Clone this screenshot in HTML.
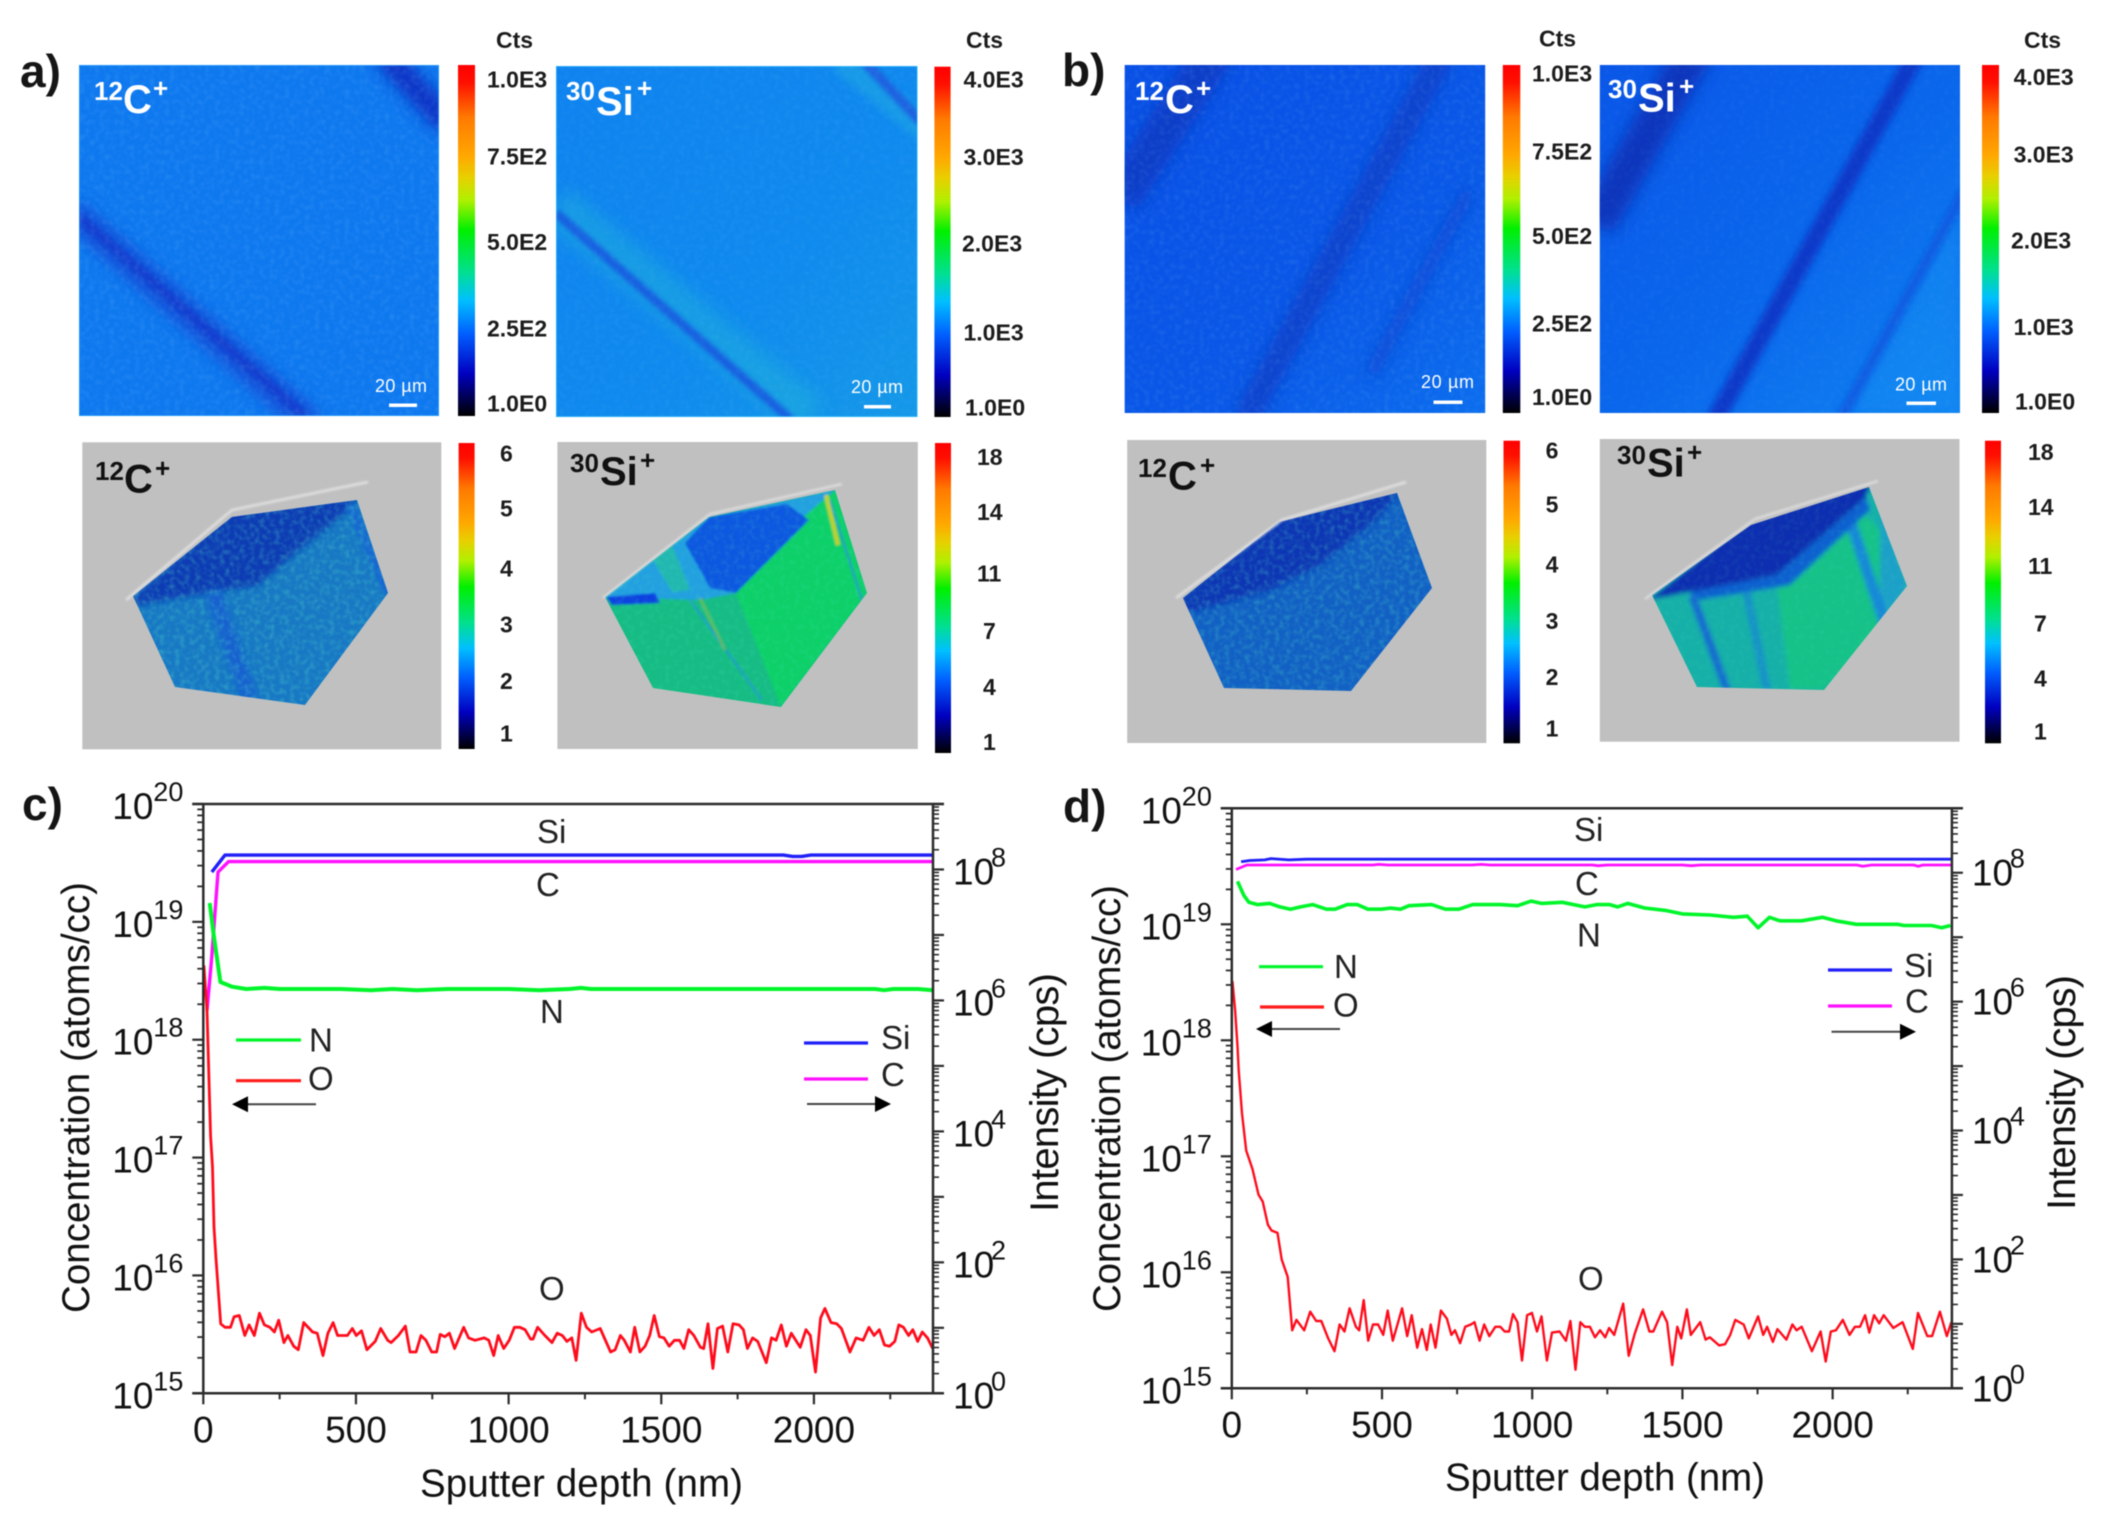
<!DOCTYPE html>
<html lang="en">
<head>
<meta charset="utf-8">
<title>SIMS ion maps and depth profiles</title>
<style>
html,body{margin:0;padding:0;background:#fff;}
#fig{display:block;width:2115px;height:1516px;filter:blur(.5px);font-family:"Liberation Sans",Arial,sans-serif;}
.pl{font-weight:bold;font-size:46px;fill:#151515;}
.cb{font-weight:bold;font-size:23px;fill:#1c1c1c;}
.ct{font-weight:bold;font-size:23px;fill:#1c1c1c;}
.ts{font-weight:bold;font-size:26px;}
.tm{font-weight:bold;font-size:40px;}
.wh{fill:#fff;}
.bk{fill:#111;}
.sc{font-size:18px;fill:#fff;}
</style>
</head>
<body>
<svg id="fig" xmlns="http://www.w3.org/2000/svg" width="2115" height="1516" viewBox="0 0 2115 1516">
<defs>
<linearGradient id="cbg" x1="0" y1="0" x2="0" y2="1">
<stop offset="0" stop-color="#ff0000"/><stop offset=".05" stop-color="#ff1000"/><stop offset=".15" stop-color="#ff7a00"/><stop offset=".26" stop-color="#ffa800"/><stop offset=".32" stop-color="#e8d000"/><stop offset=".385" stop-color="#b0f000"/><stop offset=".47" stop-color="#00f000"/><stop offset=".59" stop-color="#00e090"/><stop offset=".67" stop-color="#00c0ff"/><stop offset=".765" stop-color="#0060ff"/><stop offset=".88" stop-color="#0000c0"/><stop offset="1" stop-color="#000000"/>
</linearGradient>
<linearGradient id="a2g" x1="0" y1="0" x2="1" y2="1"><stop offset="0" stop-color="#0f82ef"/><stop offset=".6" stop-color="#0f8aee"/><stop offset="1" stop-color="#1598e8"/></linearGradient>
<linearGradient id="b1g" x1="0" y1="0" x2="1" y2="1"><stop offset="0" stop-color="#0950e6"/><stop offset=".6" stop-color="#0a58e8"/><stop offset="1" stop-color="#0c6eee"/></linearGradient>
<linearGradient id="b2g" x1="0" y1="0" x2="1" y2="1"><stop offset="0" stop-color="#0a56e8"/><stop offset=".55" stop-color="#0a68ec"/><stop offset="1" stop-color="#1284f2"/></linearGradient>
<filter id="b1" x="-20%" y="-20%" width="140%" height="140%"><feGaussianBlur stdDeviation="1"/></filter>
<filter id="b2" x="-20%" y="-20%" width="140%" height="140%"><feGaussianBlur stdDeviation="2.5"/></filter>
<filter id="b4" x="-30%" y="-30%" width="160%" height="160%"><feGaussianBlur stdDeviation="4"/></filter>
<filter id="b8" x="-30%" y="-30%" width="160%" height="160%"><feGaussianBlur stdDeviation="8"/></filter>
<filter id="nz" x="0" y="0" width="1" height="1"><feTurbulence type="fractalNoise" baseFrequency=".2" numOctaves="2" seed="4"/><feColorMatrix type="matrix" values="0 0 0 0 .35  0 0 0 0 .75  0 0 0 0 1  0 0 0 2.2 -.95"/><feGaussianBlur stdDeviation=".7"/></filter>
<filter id="ng" x="0" y="0" width="1" height="1"><feTurbulence type="fractalNoise" baseFrequency=".2" numOctaves="2" seed="9"/><feColorMatrix type="matrix" values="0 0 0 0 .1  0 0 0 0 .8  0 0 0 0 .6  0 0 0 2.4 -1"/><feGaussianBlur stdDeviation=".6"/></filter>
<clipPath id="ca1"><rect x="79" y="65" width="360" height="351"/></clipPath>
<clipPath id="ca2"><rect x="556" y="66" width="361.5" height="351"/></clipPath>
<clipPath id="cb1"><rect x="1124.6" y="65" width="360.7" height="348"/></clipPath>
<clipPath id="cb2"><rect x="1599.7" y="65" width="360.3" height="348"/></clipPath>
<clipPath id="pa3"><polygon points="133,596 232,517 357,500 388,593 305,705 175,687"/></clipPath>
<clipPath id="pa4"><polygon points="605,597 709,517 835,490 867,593 781,707 653,688"/></clipPath>
<clipPath id="pb3"><polygon points="1183,598 1279,522 1397,493 1432,588 1351,691 1224,688"/></clipPath>
<clipPath id="pb4"><polygon points="1652,595 1751,525 1869,487 1907,586 1824,690 1697,687"/></clipPath>
</defs>
<rect x="0" y="0" width="2115" height="1516" fill="#ffffff"/>

<text class="pl" x="20" y="87">a)</text>
<text class="pl" x="1062" y="86">b)</text>
<text class="pl" x="22" y="820">c)</text>
<text class="pl" x="1063" y="822">d)</text>

<!-- a: 12C map -->
<g clip-path="url(#ca1)">
<rect x="79" y="65" width="360" height="351" fill="#0e78ef"/>
<line x1="70" y1="210" x2="312" y2="425" stroke="#1450d8" stroke-width="26" filter="url(#b8)"/>
<line x1="79" y1="217" x2="304" y2="415" stroke="#0a38cc" stroke-width="8" filter="url(#b4)"/>
<line x1="385" y1="55" x2="449" y2="125" stroke="#0a30c4" stroke-width="26" filter="url(#b8)"/>
<rect x="79" y="65" width="360" height="351" filter="url(#nz)" opacity=".14"/>
<rect x="79.5" y="65.5" width="359" height="350" fill="none" stroke="#30a8ff" stroke-width="1" opacity=".6"/>
</g>
<text class="ts wh" x="94" y="100">12</text>
<text class="tm wh" x="123" y="113">C</text>
<text class="ts wh" x="153" y="97">+</text>
<text class="sc" x="375" y="392" textLength="52">20 µm</text>
<rect x="389" y="403.5" width="28" height="3.5" fill="#fff"/>
<rect x="458" y="65" width="17" height="351" fill="url(#cbg)"/>
<text class="ct" x="496" y="48">Cts</text>
<text class="cb" x="487" y="87.7">1.0E3</text>
<text class="cb" x="487" y="164.3">7.5E2</text>
<text class="cb" x="487" y="250">5.0E2</text>
<text class="cb" x="487" y="336.7">2.5E2</text>
<text class="cb" x="487" y="411.7">1.0E0</text>

<!-- a: 30Si map -->
<g clip-path="url(#ca2)">
<rect x="556" y="66" width="361.5" height="351" fill="url(#a2g)"/>
<line x1="556" y1="205" x2="810" y2="417" stroke="#20b8d8" stroke-width="40" opacity=".42" filter="url(#b8)"/>
<line x1="556" y1="213" x2="791" y2="420" stroke="#155ee0" stroke-width="9" filter="url(#b2)"/>
<line x1="840" y1="60" x2="925" y2="130" stroke="#20b0e0" stroke-width="24" opacity=".45" filter="url(#b4)"/>
<line x1="865" y1="62" x2="921" y2="122" stroke="#1a62e0" stroke-width="10" filter="url(#b2)"/>
<rect x="556" y="66" width="361.5" height="351" filter="url(#nz)" opacity=".08"/>
<rect x="556.5" y="66.5" width="360.5" height="350" fill="none" stroke="#30c8ff" stroke-width="1" opacity=".6"/>
</g>
<text class="ts wh" x="566" y="100">30</text>
<text class="tm wh" x="596" y="115">Si</text>
<text class="ts wh" x="637" y="97">+</text>
<text class="sc" x="851" y="393" textLength="52">20 µm</text>
<rect x="864" y="405" width="27" height="3.5" fill="#fff"/>
<rect x="934.4" y="66.7" width="16.2" height="350.3" fill="url(#cbg)"/>
<text class="ct" x="966" y="48">Cts</text>
<text class="cb" x="963.5" y="87.3">4.0E3</text>
<text class="cb" x="963.5" y="165">3.0E3</text>
<text class="cb" x="962" y="251.7">2.0E3</text>
<text class="cb" x="963.5" y="340.7">1.0E3</text>
<text class="cb" x="965" y="415.7">1.0E0</text>

<!-- b: 12C map -->
<g clip-path="url(#cb1)">
<rect x="1124.6" y="65" width="360.7" height="348" fill="url(#b1g)"/>
<line x1="1216" y1="50" x2="1120" y2="200" stroke="#0a3cc8" stroke-width="40" filter="url(#b8)"/>
<line x1="1442" y1="55" x2="1245" y2="420" stroke="#0a42cc" stroke-width="26" filter="url(#b8)"/>
<line x1="1470" y1="190" x2="1370" y2="375" stroke="#0a4cd6" stroke-width="14" filter="url(#b8)"/>
<rect x="1124.6" y="65" width="360.7" height="348" filter="url(#nz)" opacity=".12"/>
</g>
<text class="ts wh" x="1135" y="100">12</text>
<text class="tm wh" x="1165" y="113">C</text>
<text class="ts wh" x="1196" y="97">+</text>
<text class="sc" x="1421" y="388" textLength="53">20 µm</text>
<rect x="1433.5" y="400.5" width="29" height="3.5" fill="#fff"/>
<rect x="1502.8" y="65" width="17.5" height="348" fill="url(#cbg)"/>
<text class="ct" x="1539" y="46.7">Cts</text>
<text class="cb" x="1532" y="81.7">1.0E3</text>
<text class="cb" x="1532" y="159.3">7.5E2</text>
<text class="cb" x="1532" y="244">5.0E2</text>
<text class="cb" x="1532" y="331.7">2.5E2</text>
<text class="cb" x="1532" y="405">1.0E0</text>

<!-- b: 30Si map -->
<g clip-path="url(#cb2)">
<rect x="1599.7" y="65" width="360.3" height="348" fill="url(#b2g)"/>
<polygon points="1960,197 1960,413 1844,413" fill="#1690f2" opacity=".45" filter="url(#b8)"/>
<line x1="1695" y1="50" x2="1596" y2="225" stroke="#0836bc" stroke-width="38" filter="url(#b8)"/>
<line x1="1916" y1="55" x2="1715" y2="420" stroke="#0a38c8" stroke-width="18" filter="url(#b4)"/>
<line x1="1965" y1="190" x2="1840" y2="420" stroke="#0c58e0" stroke-width="10" filter="url(#b4)"/>
<rect x="1599.7" y="65" width="360.3" height="348" filter="url(#nz)" opacity=".06"/>
</g>
<text class="ts wh" x="1608" y="98">30</text>
<text class="tm wh" x="1638" y="111.7">Si</text>
<text class="ts wh" x="1679" y="95">+</text>
<text class="sc" x="1895" y="390.7" textLength="52">20 µm</text>
<rect x="1906.5" y="401.5" width="29.5" height="3.5" fill="#fff"/>
<rect x="1982" y="65" width="17" height="348" fill="url(#cbg)"/>
<text class="ct" x="2024" y="48">Cts</text>
<text class="cb" x="2013.6" y="85">4.0E3</text>
<text class="cb" x="2013.6" y="162.7">3.0E3</text>
<text class="cb" x="2011" y="248.3">2.0E3</text>
<text class="cb" x="2013.6" y="335">1.0E3</text>
<text class="cb" x="2015" y="409.3">1.0E0</text>

<!-- a: 3D 12C -->
<rect x="82.3" y="442.3" width="359" height="307" fill="#c0c0c0"/>
<g clip-path="url(#pa3)">
<rect x="125" y="490" width="270" height="225" fill="#1878c4"/>
<polygon points="125,605 232,510 360,495 342,515 302,547 258,585 213,592 165,600 133,606" fill="#0a3ab4" filter="url(#b4)"/>
<line x1="213" y1="592" x2="250" y2="700" stroke="#1260d0" stroke-width="16" filter="url(#b4)"/>
<line x1="350" y1="505" x2="388" y2="593" stroke="#1468d0" stroke-width="9" filter="url(#b2)"/>
<rect x="125" y="490" width="270" height="225" filter="url(#ng)" opacity=".3"/>
</g>
<polyline points="126,600 232,510 368,482" fill="none" stroke="#e8e8e8" stroke-width="2.5" opacity=".85" filter="url(#b1)"/>
<text class="ts bk" x="95" y="480">12</text>
<text class="tm bk" x="124" y="492.7">C</text>
<text class="ts bk" x="155" y="477">+</text>
<rect x="458.6" y="443" width="16" height="306" fill="url(#cbg)"/>
<text class="cb" x="500" y="461.7">6</text>
<text class="cb" x="500" y="516.7">5</text>
<text class="cb" x="500" y="576.7">4</text>
<text class="cb" x="500" y="632.7">3</text>
<text class="cb" x="500" y="689">2</text>
<text class="cb" x="500" y="741.7">1</text>

<!-- a: 3D 30Si -->
<rect x="557.4" y="442" width="360.4" height="307" fill="#c0c0c0"/>
<g clip-path="url(#pa4)">
<g filter="url(#b1)">
<rect x="600" y="485" width="272" height="225" fill="#14bc84"/>
<polygon points="736,593 787,505 835,490 867,593 781,707" fill="#10d068"/>
<polygon points="605,597 709,517 835,490 800,520 736,593 700,600" fill="#20a0e0"/>
<polygon points="650,555 668,535 690,590 672,592" fill="#20b8b0"/>
<polygon points="685,543 709,517 787,504 809,520 736,593 710,588" fill="#1058e0"/>
<polygon points="606,597 655,593 660,603 612,605" fill="#1040e0"/>
<line x1="690" y1="600" x2="762" y2="700" stroke="#20a0c0" stroke-width="2.5"/>
<line x1="830" y1="500" x2="862" y2="600" stroke="#20a0c0" stroke-width="2.5"/>
<line x1="826" y1="495" x2="838" y2="545" stroke="#c8d020" stroke-width="4"/>
<line x1="700" y1="598" x2="725" y2="650" stroke="#90c040" stroke-width="3" opacity=".6"/>
</g>
<rect x="600" y="485" width="272" height="225" filter="url(#ng)" opacity=".15"/>
</g>
<polyline points="603,598 710,514 842,484" fill="none" stroke="#e8e8e8" stroke-width="2" opacity=".85" filter="url(#b1)"/>
<text class="ts bk" x="570" y="472">30</text>
<text class="tm bk" x="600" y="485">Si</text>
<text class="ts bk" x="640" y="469">+</text>
<rect x="935" y="443" width="16" height="310" fill="url(#cbg)"/>
<text class="cb" x="977" y="465">18</text>
<text class="cb" x="977" y="520">14</text>
<text class="cb" x="977" y="581.7">11</text>
<text class="cb" x="983" y="639">7</text>
<text class="cb" x="983" y="695">4</text>
<text class="cb" x="983" y="750">1</text>

<!-- b: 3D 12C -->
<rect x="1127.2" y="440" width="359.1" height="303" fill="#c0c0c0"/>
<g clip-path="url(#pb3)">
<rect x="1175" y="485" width="265" height="215" fill="#1260c4"/>
<polygon points="1175,605 1279,515 1402,488 1375,520 1320,565 1270,590 1190,612" fill="#0a36b4" filter="url(#b4)"/>
<rect x="1175" y="485" width="265" height="215" filter="url(#ng)" opacity=".28"/>
</g>
<polyline points="1176,598 1282,520 1406,482" fill="none" stroke="#e8e8e8" stroke-width="2.5" opacity=".85" filter="url(#b1)"/>
<text class="ts bk" x="1138" y="477">12</text>
<text class="tm bk" x="1168" y="489.3">C</text>
<text class="ts bk" x="1200" y="474">+</text>
<rect x="1503.5" y="440.7" width="16.5" height="302.6" fill="url(#cbg)"/>
<text class="cb" x="1545.6" y="458.3">6</text>
<text class="cb" x="1545.6" y="512.7">5</text>
<text class="cb" x="1545.6" y="572.7">4</text>
<text class="cb" x="1545.6" y="629">3</text>
<text class="cb" x="1545.6" y="685">2</text>
<text class="cb" x="1545.6" y="736.7">1</text>

<!-- b: 3D 30Si -->
<rect x="1599.8" y="439" width="359.7" height="302.7" fill="#c0c0c0"/>
<g clip-path="url(#pb4)">
<g filter="url(#b2)">
<rect x="1645" y="480" width="268" height="215" fill="#12b0a8"/>
<polygon points="1776,575 1850,500 1880,530 1895,615 1824,690 1790,690" fill="#12c288"/>
<polygon points="1880,510 1907,586 1880,625" fill="#1ba0c8"/>
<line x1="1692" y1="595" x2="1727" y2="690" stroke="#1468d0" stroke-width="8"/>
<line x1="1745" y1="585" x2="1767" y2="690" stroke="#1890c8" stroke-width="8"/>
<line x1="1850" y1="520" x2="1887" y2="630" stroke="#1488d8" stroke-width="11"/>
<polygon points="1690,592 1776,575 1866,497 1870,510 1790,585 1700,600" fill="#1060d0"/>
<polygon points="1648,600 1751,518 1872,482 1866,497 1776,575 1690,592" fill="#0a2eb0"/>
</g>
<rect x="1645" y="480" width="268" height="215" filter="url(#ng)" opacity=".1"/>
</g>
<polyline points="1645,599 1755,519 1878,481" fill="none" stroke="#e8e8e8" stroke-width="2" opacity=".85" filter="url(#b1)"/>
<text class="ts bk" x="1617" y="464">30</text>
<text class="tm bk" x="1647" y="476.7">Si</text>
<text class="ts bk" x="1687" y="461">+</text>
<rect x="1985" y="440.7" width="16" height="302.6" fill="url(#cbg)"/>
<text class="cb" x="2028" y="460">18</text>
<text class="cb" x="2028" y="515">14</text>
<text class="cb" x="2028" y="574">11</text>
<text class="cb" x="2034" y="631.7">7</text>
<text class="cb" x="2034" y="686.7">4</text>
<text class="cb" x="2034" y="739.3">1</text>

<g id="chart-c"></g>
<g id="chart-d"></g>
</svg>

<script>
// ---------- shared axis data ----------
const xMajorTicks = [0, 500, 1000, 1500, 2000];
const xMinorTicks = [250, 750, 1250, 1750, 2250];
const leftDecades = [15, 16, 17, 18, 19, 20];
const rightDecades = [0, 1, 2, 3, 4, 5, 6, 7, 8, 9];
const rightLabelledDecades = [0, 2, 4, 6, 8];
const minorMultipliers = [2, 3, 4, 5, 6, 7, 8, 9];

// ---------- chart c data: depth (nm), log10 concentration or intensity ----------
const cDepthO = [2,12,24,30,35,42,57,71,89,101,118,136,150,167,184,200,218,233,247,264,277,296,311,329,358,373,392,408,425,440,472,488,501,518,536,563,581,604,615,639,662,677,697,713,729,748,764,776,791,806,823,853,869,890,920,935,951,966,984,1002,1019,1037,1054,1072,1080,1095,1119,1142,1159,1176,1191,1207,1221,1238,1255,1272,1300,1334,1349,1366,1379,1399,1413,1430,1447,1462,1477,1494,1509,1526,1543,1560,1574,1590,1607,1628,1639,1653,1669,1684,1701,1718,1735,1755,1769,1782,1799,1816,1844,1861,1876,1893,1910,1926,1955,1974,1988,2005,2022,2036,2056,2075,2090,2118,2138,2161,2180,2197,2214,2231,2248,2265,2278,2293,2310,2324,2340,2355,2372,2389];
const cLogO = [18.63,18.25,17.18,16.92,16.41,16.13,15.59,15.56,15.56,15.65,15.66,15.49,15.58,15.49,15.68,15.58,15.56,15.52,15.62,15.43,15.49,15.40,15.37,15.60,15.52,15.51,15.32,15.51,15.60,15.49,15.49,15.55,15.49,15.53,15.37,15.44,15.55,15.45,15.43,15.49,15.57,15.35,15.35,15.49,15.45,15.35,15.35,15.50,15.48,15.51,15.38,15.56,15.47,15.45,15.47,15.45,15.32,15.49,15.38,15.45,15.56,15.56,15.54,15.46,15.46,15.56,15.49,15.43,15.51,15.49,15.44,15.47,15.28,15.68,15.56,15.52,15.55,15.35,15.37,15.49,15.45,15.35,15.56,15.35,15.40,15.49,15.66,15.48,15.47,15.40,15.45,15.45,15.38,15.54,15.49,15.39,15.38,15.59,15.21,15.55,15.57,15.35,15.59,15.58,15.54,15.38,15.47,15.44,15.26,15.47,15.45,15.58,15.40,15.51,15.39,15.54,15.49,15.18,15.64,15.72,15.60,15.59,15.55,15.35,15.47,15.45,15.56,15.49,15.54,15.41,15.40,15.44,15.58,15.56,15.49,15.54,15.44,15.52,15.47,15.38];
const cDepthN = [21,35,56,94,141,200,250,350,450,550,620,700,800,900,1000,1100,1200,1237,1270,1400,1600,1800,2000,2200,2230,2260,2340,2390];
const cLogN = [19.16,18.87,18.49,18.45,18.43,18.44,18.43,18.43,18.43,18.42,18.43,18.42,18.43,18.43,18.43,18.42,18.43,18.44,18.43,18.43,18.43,18.43,18.43,18.43,18.42,18.43,18.43,18.42];
const cDepthSi = [28,71,500,1000,1500,1900,1930,1960,1990,2390];
const cLogSi = [7.96,8.22,8.22,8.22,8.22,8.22,8.20,8.20,8.22,8.22];
const cDepthC = [12,28,48,83,500,1000,1500,2000,2390];
const cLogC = [5.85,6.67,7.96,8.12,8.12,8.12,8.12,8.12,8.12];

// ---------- chart d data ----------
const dDepthO = [2,11,19,23,34,48,69,89,103,120,132,152,166,186,201,215,241,261,281,298,321,342,359,375,392,413,424,439,454,470,487,504,519,536,567,584,599,617,633,649,662,678,696,716,731,743,760,777,796,808,825,840,857,877,894,908,923,936,951,966,983,999,1016,1031,1049,1066,1091,1112,1127,1144,1160,1175,1192,1209,1226,1243,1256,1273,1303,1321,1341,1369,1390,1403,1432,1449,1466,1483,1496,1515,1528,1559,1577,1591,1622,1642,1659,1676,1704,1721,1752,1769,1782,1801,1816,1846,1866,1880,1897,1931,1960,1977,1994,2011,2034,2056,2074,2091,2108,2122,2138,2155,2170,2202,2233,2267,2284,2315,2331,2357,2380,2395];
const dLogO = [18.51,18.26,17.95,17.74,17.37,17.05,16.89,16.67,16.61,16.41,16.36,16.34,16.11,15.96,15.50,15.59,15.50,15.66,15.58,15.58,15.43,15.32,15.55,15.49,15.69,15.53,15.50,15.76,15.41,15.55,15.55,15.46,15.67,15.41,15.69,15.45,15.63,15.35,15.51,15.33,15.55,15.35,15.67,15.60,15.46,15.50,15.39,15.53,15.55,15.57,15.41,15.55,15.45,15.53,15.53,15.49,15.49,15.64,15.57,15.24,15.63,15.65,15.49,15.62,15.24,15.48,15.49,15.41,15.58,15.16,15.57,15.53,15.53,15.44,15.50,15.44,15.52,15.46,15.73,15.28,15.47,15.68,15.49,15.49,15.66,15.57,15.20,15.53,15.43,15.68,15.46,15.57,15.42,15.44,15.37,15.38,15.46,15.59,15.55,15.43,15.62,15.46,15.53,15.40,15.51,15.42,15.55,15.50,15.53,15.32,15.49,15.23,15.49,15.50,15.59,15.46,15.53,15.53,15.63,15.48,15.63,15.56,15.63,15.52,15.57,15.34,15.65,15.45,15.45,15.66,15.45,15.57];
const dDepthN = [19,40,57,86,126,160,195,229,269,315,344,384,418,453,499,527,562,590,665,711,756,802,848,894,951,997,1031,1100,1175,1215,1258,1284,1318,1375,1443,1500,1591,1670,1716,1752,1790,1824,1897,1966,2011,2079,2216,2238,2329,2363,2392];
const dLogN = [19.37,19.25,19.19,19.17,19.18,19.15,19.13,19.15,19.17,19.13,19.13,19.17,19.17,19.13,19.13,19.14,19.13,19.16,19.17,19.13,19.13,19.17,19.17,19.17,19.16,19.20,19.18,19.19,19.15,19.17,19.17,19.15,19.18,19.14,19.12,19.09,19.08,19.06,19.07,18.97,19.06,19.03,19.03,19.06,19.03,19.00,19.00,18.99,18.99,18.97,18.99];
const dDepthSi = [31,60,110,130,190,250,500,1000,1500,2000,2397];
const dLogSi = [8.17,8.19,8.20,8.22,8.20,8.21,8.21,8.21,8.21,8.21,8.21];
const dDepthC = [14,50,400,470,490,520,800,830,860,1200,1220,1250,1500,1530,1560,2080,2100,2130,2270,2285,2300,2397];
const dLogC = [8.05,8.12,8.12,8.12,8.13,8.12,8.12,8.13,8.12,8.12,8.11,8.12,8.12,8.11,8.12,8.12,8.10,8.12,8.12,8.10,8.12,8.12];

const SVG_NS = 'http://www.w3.org/2000/svg';

function node(parent, tag, attrs, name) {
  const el = document.createElementNS(SVG_NS, tag);
  for (const k in attrs) el.setAttribute(k, attrs[k]);
  
  
  parent.appendChild(el);
  return el;
}

function label(parent, str, attrs, name) {
  const el = node(parent, 'text', attrs, name);
  el.textContent = str;
  return el;
}

function drawChart(id, c) {
  const g = document.getElementById(id);
  const xPos = v => c.x0 + (v / c.xMax) * (c.x1 - c.x0);
  const yLeft = v => c.yB - ((v - 15) / 5) * (c.yB - c.yT);
  const yRight = v => c.yB - (v / 9) * (c.yB - c.yT);
  const AX = '#2c2c2c';

  const series = (depths, values, scale, color, width, name) => {
    const pts = depths.map((d, i) => xPos(d).toFixed(1) + ',' + scale(values[i]).toFixed(1)).join(' ');
    node(g, 'polyline', {points: pts, fill: 'none', stroke: color, 'stroke-width': width, 'stroke-linejoin': 'round'}, name);
  };
  series(c.si[0], c.si[1], yRight, '#2020f8', c.w1, 'series-si');
  series(c.cc[0], c.cc[1], yRight, '#ff10ff', c.w1, 'series-c');
  series(c.n[0], c.n[1], yLeft, '#00f52a', c.w2, 'series-n');
  series(c.o[0], c.o[1], yLeft, '#ff0c1c', c.w3, 'series-o');

  node(g, 'line', {x1: c.x0 - 11, x2: c.x1 + 11, y1: c.yT, y2: c.yT, stroke: AX, 'stroke-width': 2.5}, 'top-axis-line');
  node(g, 'line', {x1: c.x0 - 11, x2: c.x1 + 11, y1: c.yB, y2: c.yB, stroke: AX, 'stroke-width': 2.5}, 'bottom-axis-line');
  node(g, 'line', {x1: c.x0, x2: c.x0, y1: c.yT, y2: c.yB, stroke: AX, 'stroke-width': 2.5}, 'left-axis-line');
  node(g, 'line', {x1: c.x1, x2: c.x1, y1: c.yT, y2: c.yB, stroke: AX, 'stroke-width': 2.5}, 'right-axis-line');

  xMajorTicks.forEach(v => {
    const x = xPos(v);
    node(g, 'line', {x1: x, x2: x, y1: c.yB, y2: c.yB + 11, stroke: AX, 'stroke-width': 2.2}, 'x-tick');
    label(g, String(v), {x: x, y: c.yB + 49, 'text-anchor': 'middle', 'font-size': 37, fill: '#111'}, 'x-tick-label');
  });
  xMinorTicks.forEach(v => {
    const x = xPos(v);
    node(g, 'line', {x1: x, x2: x, y1: c.yB, y2: c.yB + 6, stroke: AX, 'stroke-width': 2}, 'x-minor-tick');
  });

  leftDecades.forEach(d => {
    const y = yLeft(d);
    node(g, 'line', {x1: c.x0 - 11, x2: c.x0, y1: y, y2: y, stroke: AX, 'stroke-width': 2.2}, 'left-tick');
    label(g, '10', {x: c.x0 - 91, y: y + 15, 'font-size': 37, fill: '#111'}, 'left-tick-label');
    label(g, String(d), {x: c.x0 - 50, y: y - 3, 'font-size': 27, fill: '#111'}, 'left-tick-exponent');
    if (d < 20) {
      minorMultipliers.forEach(m => {
        const my = yLeft(d + Math.log10(m));
        node(g, 'line', {x1: c.x0 - 6, x2: c.x0, y1: my, y2: my, stroke: AX, 'stroke-width': 1.8}, 'left-minor-tick');
      });
    }
  });

  rightDecades.forEach(d => {
    const y = yRight(d);
    node(g, 'line', {x1: c.x1, x2: c.x1 + 11, y1: y, y2: y, stroke: AX, 'stroke-width': 2.2}, 'right-tick');
    if (d < 9) {
      minorMultipliers.forEach(m => {
        const my = yRight(d + Math.log10(m));
        node(g, 'line', {x1: c.x1, x2: c.x1 + 6, y1: my, y2: my, stroke: AX, 'stroke-width': 1.6}, 'right-minor-tick');
      });
    }
  });
  rightLabelledDecades.forEach(d => {
    const y = yRight(d);
    label(g, '10', {x: c.x1 + 20, y: y + c.rOff, 'font-size': 37, fill: '#111'}, 'right-tick-label');
    label(g, String(d), {x: c.x1 + 58, y: y + c.rOff - 18, 'font-size': 27, fill: '#111'}, 'right-tick-exponent');
  });

  label(g, 'Sputter depth (nm)', {x: c.xt[0], y: c.xt[1], 'font-size': 38.5, fill: '#111', textLength: c.xt[2]}, 'x-axis-title');
  label(g, 'Concentration (atoms/cc)', {transform: 'translate(' + c.yl[0] + ',' + c.yl[1] + ') rotate(-90)', 'font-size': 38.5, fill: '#111', textLength: c.yl[2]}, 'left-axis-title');
  label(g, 'Intensity (cps)', {transform: 'translate(' + c.yr[0] + ',' + c.yr[1] + ') rotate(-90)', 'font-size': 40, fill: '#111', textLength: c.yr[2]}, 'right-axis-title');

  c.tags.forEach(t => {
    label(g, t[0], {x: t[1], y: t[2], 'font-size': 33, fill: '#222'}, 'series-annotation');
  });
  c.legend.forEach(l => {
    node(g, 'line', {x1: l[0], x2: l[1], y1: l[2], y2: l[2], stroke: l[3], 'stroke-width': 3.2}, 'legend-line');
    label(g, l[4], {x: l[5], y: l[6], 'font-size': 33, fill: '#222'}, 'legend-label');
  });
  c.arrows.forEach(a => {
    const dir = a[1] > a[0] ? 1 : -1;
    node(g, 'line', {x1: a[0], x2: a[1] - dir * 10, y1: a[2], y2: a[2], stroke: '#444', 'stroke-width': 2}, 'axis-arrow-line');
    const hb = a[1] - dir * 16;
    node(g, 'polygon', {points: a[1] + ',' + a[2] + ' ' + hb + ',' + (a[2] - 8) + ' ' + hb + ',' + (a[2] + 8), fill: '#000'}, 'axis-arrow-head');
  });
}

drawChart('chart-c', {
  x0: 203.3, x1: 933, yT: 804, yB: 1393.3, xMax: 2390, rOff: 15,
  w1: 3.4, w2: 4, w3: 2.8,
  si: [cDepthSi, cLogSi], cc: [cDepthC, cLogC], n: [cDepthN, cLogN], o: [cDepthO, cLogO],
  xt: [420, 1496.7, 323], yl: [89, 1313, 431], yr: [1058, 1212, 239],
  tags: [['Si', 537, 843], ['C', 536, 896], ['N', 540, 1023], ['O', 539, 1300]],
  legend: [[236, 301, 1040, '#00f52a', 'N', 309, 1051.7], [236, 301, 1080.7, '#ff1c1c', 'O', 308, 1090],
           [804, 868, 1043, '#2020f8', 'Si', 881, 1049], [804, 868, 1079, '#ff10ff', 'C', 881, 1086]],
  arrows: [[316, 232, 1104.3], [807, 891, 1104]]
});

drawChart('chart-d', {
  x0: 1231.8, x1: 1951.9, yT: 808.3, yB: 1388.3, xMax: 2397, rOff: 13,
  w1: 2.8, w2: 3.6, w3: 2.4,
  si: [dDepthSi, dLogSi], cc: [dDepthC, dLogC], n: [dDepthN, dLogN], o: [dDepthO, dLogO],
  xt: [1445, 1490.7, 320], yl: [1120, 1312, 427], yr: [2075, 1210, 235],
  tags: [['Si', 1574, 841], ['C', 1575, 895], ['N', 1577, 946.7], ['O', 1578, 1290]],
  legend: [[1259, 1323, 966.7, '#00f52a', 'N', 1334, 978], [1260, 1324, 1007, '#ff1c1c', 'O', 1333, 1016.7],
           [1828, 1892, 970, '#2020f8', 'Si', 1904, 977], [1828, 1892, 1006, '#ff10ff', 'C', 1905, 1012.7]],
  arrows: [[1340, 1256, 1029], [1831.5, 1916, 1031.7]]
});
</script>
</body>
</html>
